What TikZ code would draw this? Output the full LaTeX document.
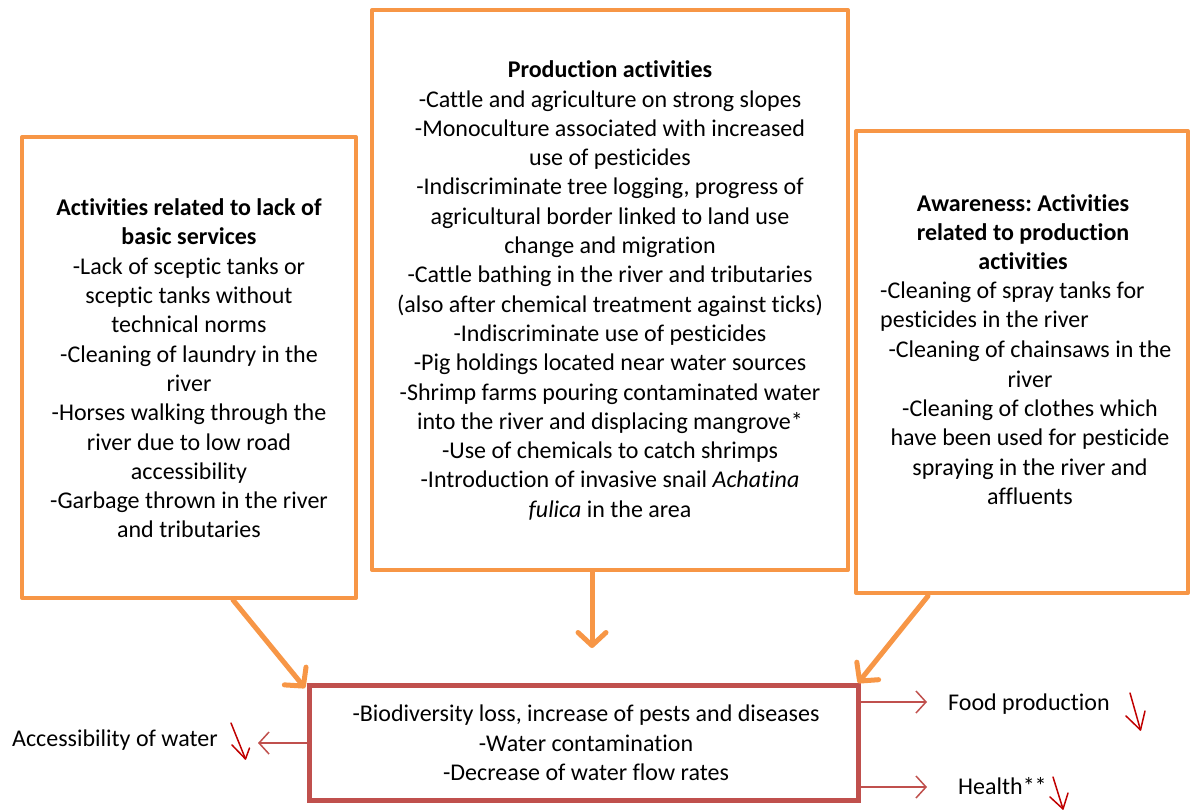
\documentclass[tikz,border=0pt]{standalone}
\usepackage{fontspec}
\setmainfont[Ligatures=NoCommon]{Carlito}
\frenchspacing
\usetikzlibrary{arrows.meta}
\definecolor{orangeline}{HTML}{F79646}
\definecolor{redline}{HTML}{C0504D}
\definecolor{darkred}{HTML}{C00000}
\tikzset{
  obox/.style={draw=orangeline, line width=4pt, line join=round},
  rbox/.style={draw=redline, line width=5pt},
  txt/.style={font=\fontsize{24}{29.3}\selectfont, align=center, inner sep=0pt},
  oarrow/.style={draw=orangeline, line width=5pt, line cap=round, -{Straight Barb[length=13pt, width=28pt, line width=5pt, round]}},
  rarrow/.style={draw=redline, line width=1.5pt, -{Straight Barb[length=10pt, width=22pt, line width=1.5pt]}},
  downmark/.style={draw=darkred, line width=1.5pt, line cap=round, line join=round}
}
\begin{document}
\begin{tikzpicture}[x=1pt, y=-1pt]
\useasboundingbox (0,0) rectangle (1190,810);
% boxes
\draw[obox] (22,137) rectangle (356,598);
\coordinate (leftbot) at (233,600);
\draw[obox] (372,10) rectangle (848,570);
\coordinate (midbot) at (592,572);
\draw[obox] (856,131) rectangle (1188,593);
\coordinate (rightbot) at (928,596);
\node[rbox, minimum width=549pt, minimum height=115pt, inner sep=0pt] (effects) at (583.5,742.5) {};
\node[txt] at (586,743) {-Biodiversity loss, increase of pests and diseases\\-Water contamination\\-Decrease of water flow rates};

% left text
\node[txt] (lefttxt) at (189,368.5) {\textbf{Activities related to lack of}\\\textbf{basic services}\\-Lack of sceptic tanks or\\sceptic tanks without\\technical norms\\-Cleaning of laundry in the\\river\\-Horses walking through the\\river due to low road\\accessibility\\-Garbage thrown in the river\\and tributaries};

% middle text
\node[txt] (midtxt) at (610,290.5) {\textbf{Production activities}\\-Cattle and agriculture on strong slopes\\-Monoculture associated with increased\\use of pesticides\\-Indiscriminate tree logging, progress of\\agricultural border linked to land use\\change and migration\\-Cattle bathing in the river and tributaries\\(also after chemical treatment against ticks)\\-Indiscriminate use of pesticides\\-Pig holdings located near water sources\\-Shrimp farms pouring contaminated water\\into the river and displacing mangrove*\\-Use of chemicals to catch shrimps\\-Introduction of invasive snail \textit{Achatina}\\\textit{fulica} in the area};

% right text
\node[txt] (righttitle) at (1023,232) {\textbf{Awareness: Activities}\\\textbf{related to production}\\\textbf{activities}};
\node[txt, align=left, anchor=west] (rightA) at (880,306.5) {-Cleaning of spray tanks for\\pesticides in the river};
\node[txt] (rightB) at (1030,423) {-Cleaning of chainsaws in the\\river\\-Cleaning of clothes which\\have been used for pesticide\\spraying in the river and\\affluents};

% orange arrows
\coordinate (effL) at (305,688);
\coordinate (effM) at (592,648);
\coordinate (effR) at (858,683);
\draw[oarrow] (leftbot) -- (effL);
\draw[oarrow] (midbot) -- (effM);
\draw[oarrow] (rightbot) -- (effR);

% outcome labels
\node[txt, anchor=west] (water) at (12,740) {Accessibility of water};
\node[txt, anchor=west] (food) at (948,704) {Food production};
\node[txt, anchor=west] (health) at (958,786) {Health**};

% red arrows
\draw[rarrow] (effects.west |- 0,743) -- (258,743);
\draw[rarrow] (effects.east |- 0,702) -- (927,702);
\draw[rarrow] (effects.east |- 0,787) -- (927,787);

% hand-drawn down marks
\draw[downmark] (231,723) -- (245.5,759);
\draw[downmark] (232,745) -- (245.5,759) -- (249.5,748);
\draw[downmark] (1130,693) -- (1140.5,730);
\draw[downmark] (1126,716) -- (1140.5,730) -- (1145,711);
\draw[downmark] (1053,777) -- (1063,809);
\draw[downmark] (1050,797) -- (1063,809) -- (1068,793);
\end{tikzpicture}
\end{document}
